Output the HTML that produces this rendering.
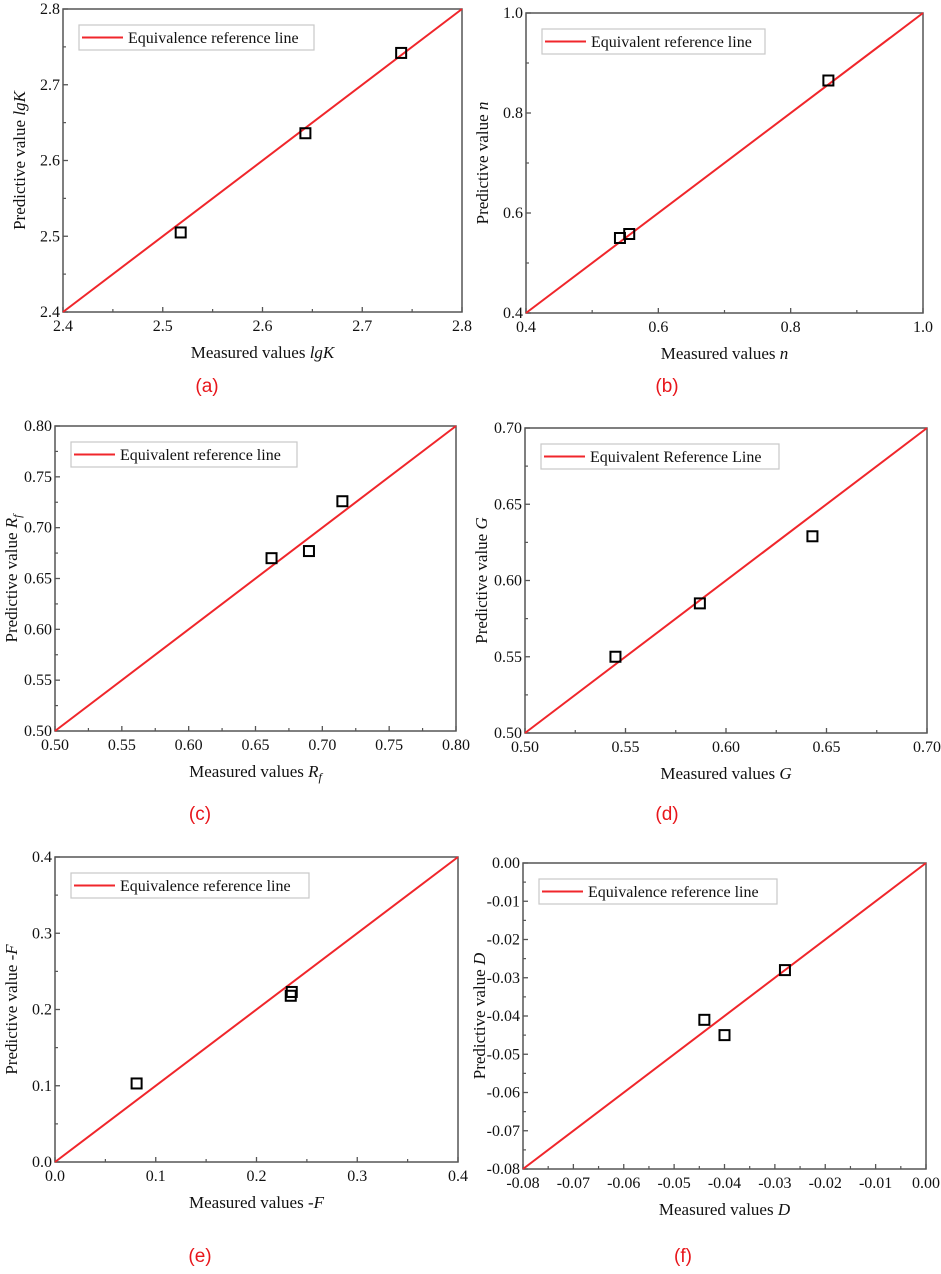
<!DOCTYPE html>
<html><head><meta charset="utf-8">
<style>
html,body{margin:0;padding:0;background:#fff;}
svg{display:block;}
text{font-family:"Liberation Serif","Times New Roman",serif;fill:#111;}
.lab{font-family:"Liberation Sans",sans-serif;fill:#e8161b;font-size:19px;}
</style></head>
<body>
<svg id="fig" width="941" height="1274" viewBox="0 0 941 1274" xmlns="http://www.w3.org/2000/svg"></svg>
<script>
// ---- data ----
const aMeasured = [2.518, 2.643, 2.739];
const aPredicted = [2.505, 2.636, 2.742];
const aTicks = ["2.4", "2.5", "2.6", "2.7", "2.8"];
const bMeasured = [0.542, 0.556, 0.857];
const bPredicted = [0.550, 0.558, 0.865];
const bTicks = ["0.4", "0.6", "0.8", "1.0"];
const cMeasured = [0.662, 0.690, 0.715];
const cPredicted = [0.670, 0.677, 0.726];
const cTicks = ["0.50", "0.55", "0.60", "0.65", "0.70", "0.75", "0.80"];
const dMeasured = [0.545, 0.587, 0.643];
const dPredicted = [0.550, 0.585, 0.629];
const dTicks = ["0.50", "0.55", "0.60", "0.65", "0.70"];
const eMeasured = [0.081, 0.234, 0.235];
const ePredicted = [0.103, 0.218, 0.223];
const eTicks = ["0.0", "0.1", "0.2", "0.3", "0.4"];
const fMeasured = [-0.044, -0.040, -0.028];
const fPredicted = [-0.041, -0.045, -0.028];
const fTicks = ["-0.08", "-0.07", "-0.06", "-0.05", "-0.04", "-0.03", "-0.02", "-0.01", "0.00"];

const NS = "http://www.w3.org/2000/svg";
const SERIF = '"Liberation Serif", "Times New Roman", serif';
const svg = document.getElementById('fig');
function mk(tag, attrs, parent) {
  const e = document.createElementNS(NS, tag);
  for (const k in attrs) e.setAttribute(k, attrs[k]);
  (parent || svg).appendChild(e);
  return e;
}

const panels = [
  {id:'a', L:63, R:462, T:9, B:312, xs:aMeasured, ys:aPredicted, ticks:aTicks,
   legend:'Equivalence reference line', lw:235, xt:['Measured values ','lgK'], yt:['Predictive value ','lgK'], lx:207, ly:392},
  {id:'b', L:526, R:923, T:13, B:313, xs:bMeasured, ys:bPredicted, ticks:bTicks,
   legend:'Equivalent reference line', lw:223, xt:['Measured values ','n'], yt:['Predictive value ','n'], lx:667, ly:392},
  {id:'c', L:55, R:456, T:426, B:731, xs:cMeasured, ys:cPredicted, ticks:cTicks,
   legend:'Equivalent reference line', lw:226, xt:['Measured values ','Rf'], yt:['Predictive value ','Rf'], lx:200, ly:820},
  {id:'d', L:525, R:927, T:428, B:733, xs:dMeasured, ys:dPredicted, ticks:dTicks,
   legend:'Equivalent Reference Line', lw:238, xt:['Measured values ','G'], yt:['Predictive value ','G'], lx:667, ly:820},
  {id:'e', L:55, R:458, T:857, B:1162, xs:eMeasured, ys:ePredicted, ticks:eTicks,
   legend:'Equivalence reference line', lw:238, xt:['Measured values ','-F'], yt:['Predictive value ','-F'], lx:200, ly:1262},
  {id:'f', L:523, R:926, T:863, B:1169, xs:fMeasured, ys:fPredicted, ticks:fTicks,
   legend:'Equivalence reference line', lw:238, xt:['Measured values ','D'], yt:['Predictive value ','D'], lx:683, ly:1262}
];

function addTitle(g, parts, x, y, rot) {
  const t = mk('text', {x:x, y:y, 'font-size':17, 'text-anchor':'middle', 'font-family':SERIF}, g);
  if (rot) t.setAttribute('transform', 'rotate(-90 ' + x + ' ' + y + ')');
  t.appendChild(document.createTextNode(parts[0]));
  let v = parts[1];
  if (v === 'Rf') {
    const s1 = mk('tspan', {'font-style':'italic'}, t); s1.textContent = 'R';
    const s2 = mk('tspan', {'font-style':'italic', 'font-size':12, dy:4}, t); s2.textContent = 'f';
  } else if (v === '-F') {
    t.appendChild(document.createTextNode('-'));
    const s = mk('tspan', {'font-style':'italic'}, t); s.textContent = 'F';
  } else {
    const s = mk('tspan', {'font-style':'italic'}, t); s.textContent = v;
  }
  return t;
}

panels.forEach(p => {
  const g = mk('g', {});
  
  
  const vmin = parseFloat(p.ticks[0]), vmax = parseFloat(p.ticks[p.ticks.length - 1]);
  const sx = v => p.L + (v - vmin) / (vmax - vmin) * (p.R - p.L);
  const sy = v => p.B - (v - vmin) / (vmax - vmin) * (p.B - p.T);
  const fr = mk('rect', {x:p.L, y:p.T, width:p.R - p.L, height:p.B - p.T, fill:'none', stroke:'#555', 'stroke-width':1.5}, g);
  
  
  const n = p.ticks.length;
  for (let i = 0; i < n; i++) {
    const v = parseFloat(p.ticks[i]);
    const X = sx(v), Y = sy(v);
    mk('line', {x1:X, y1:p.B, x2:X, y2:p.B - 5, stroke:'#555', 'stroke-width':1.3}, g);
    mk('line', {x1:p.L, y1:Y, x2:p.L + 5, y2:Y, stroke:'#555', 'stroke-width':1.3}, g);
    const xl = mk('text', {x:X, y:p.B + 19, 'font-size':16, 'text-anchor':'middle', 'font-family':SERIF}, g);
    xl.textContent = p.ticks[i];
    
    
    const yl = mk('text', {x:p.L - 3, y:Y + 5, 'font-size':16, 'text-anchor':'end', 'font-family':SERIF}, g);
    yl.textContent = p.ticks[i];
    
    
    if (i < n - 1) {
      const m = (v + parseFloat(p.ticks[i + 1])) / 2;
      mk('line', {x1:sx(m), y1:p.B, x2:sx(m), y2:p.B - 3, stroke:'#555', 'stroke-width':1.2}, g);
      mk('line', {x1:p.L, y1:sy(m), x2:p.L + 3, y2:sy(m), stroke:'#555', 'stroke-width':1.2}, g);
    }
  }
  const rl = mk('line', {x1:sx(vmin), y1:sy(vmin), x2:sx(vmax), y2:sy(vmax), stroke:'#f0262b', 'stroke-width':2}, g);
  
  
  for (let i = 0; i < p.xs.length; i++) {
    const r = mk('rect', {x:sx(p.xs[i]) - 5, y:sy(p.ys[i]) - 5, width:10, height:10, fill:'none', stroke:'#000', 'stroke-width':2}, g);
    
    
  }
  const lg = mk('g', {}, g);
  
  
  const lx0 = p.L + 16, ly0 = p.T + 16;
  mk('rect', {x:lx0, y:ly0, width:p.lw, height:25, fill:'#fff', stroke:'#c8c8c8', 'stroke-width':1.2}, lg);
  mk('line', {x1:lx0 + 3, y1:ly0 + 12.5, x2:lx0 + 44, y2:ly0 + 12.5, stroke:'#f0262b', 'stroke-width':2}, lg);
  const lt = mk('text', {x:lx0 + 49, y:ly0 + 18, 'font-size':16, 'font-family':SERIF}, lg);
  lt.textContent = p.legend;
  const xt = addTitle(g, p.xt, (p.L + p.R) / 2, p.B + 46, false);
  
  
  const yt = addTitle(g, p.yt, p.L - 38, (p.T + p.B) / 2, true);
  
  
  const pl = mk('text', {x:p.lx, y:p.ly, 'text-anchor':'middle', class:'lab'}, g);
  pl.textContent = '(' + p.id + ')';
  
  
});
</script>
</body></html>
